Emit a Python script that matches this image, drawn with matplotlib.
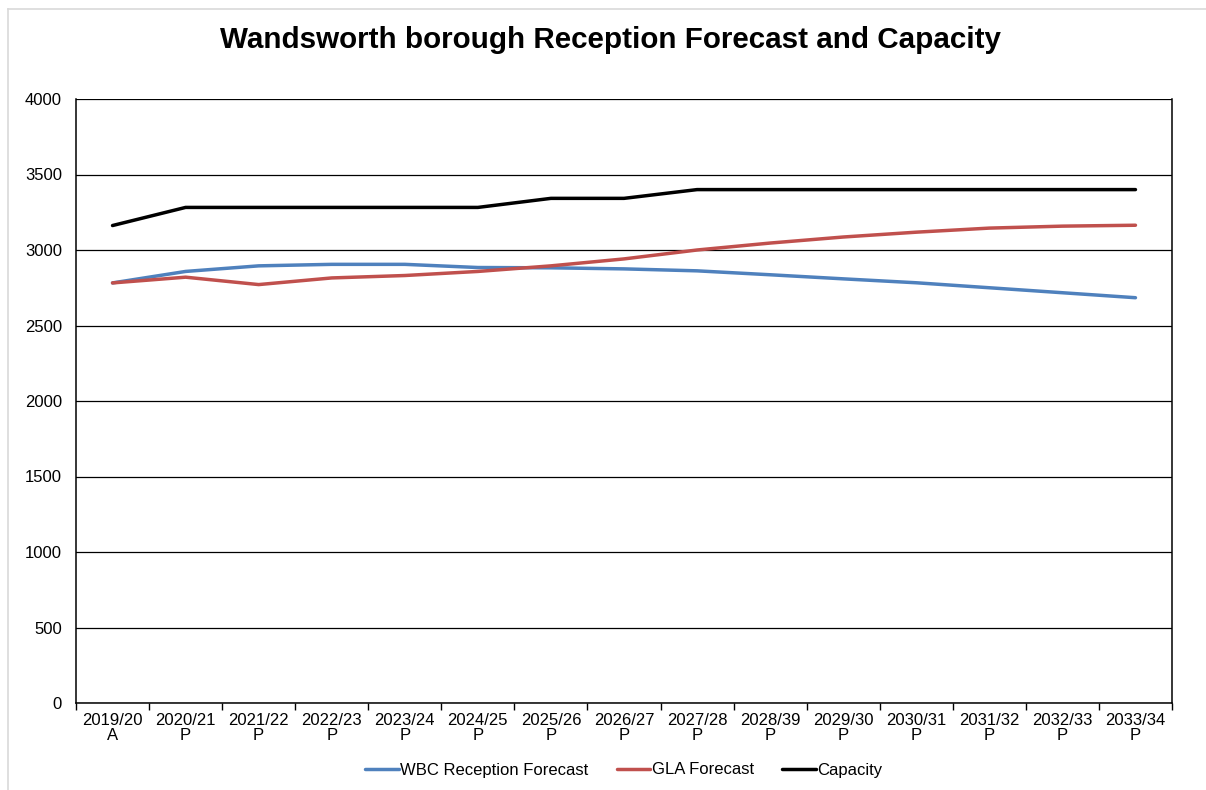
import matplotlib.pyplot as plt
from matplotlib.lines import Line2D
from matplotlib.ticker import FixedLocator, NullFormatter

plt.rcParams['font.family'] = ['Liberation Sans', 'DejaVu Sans']

years = ["2019/20", "2020/21", "2021/22", "2022/23", "2023/24", "2024/25", "2025/26",
         "2026/27", "2027/28", "2028/39", "2029/30", "2030/31", "2031/32", "2032/33", "2033/34"]
status = ["A"] + ["P"] * 14
wbc = [2782, 2858, 2895, 2905, 2905, 2884, 2882, 2875, 2862, 2836, 2809, 2783, 2750, 2717, 2684]
gla = [2782, 2820, 2771, 2815, 2831, 2858, 2895, 2941, 3000, 3046, 3086, 3118, 3145, 3158, 3164]
capacity = [3162, 3282, 3282, 3282, 3282, 3282, 3342, 3342, 3400, 3400, 3400, 3400, 3400, 3400, 3400]

labels = [y + "\n" + s for y, s in zip(years, status)]
x = list(range(len(years)))

fig = plt.figure(figsize=(12.06, 7.90), dpi=100)
ax = fig.add_axes([76 / 1206, 87 / 790, 1096 / 1206, 604 / 790])

ax.plot(x, wbc, color="#4F81BD", lw=2.5, label="WBC Reception Forecast", solid_capstyle="round")
ax.plot(x, gla, color="#C0504D", lw=2.5, label="GLA Forecast", solid_capstyle="round")
ax.plot(x, capacity, color="black", lw=2.5, label="Capacity", solid_capstyle="round")

ax.set_xlim(-0.5, len(years) - 0.5)
ax.set_ylim(0, 4000)
ax.set_yticks(range(0, 4001, 500))
ax.yaxis.grid(True, color="black", lw=0.9)
ax.set_axisbelow(True)
ax.tick_params(axis="y", length=0, labelsize=12, pad=10)

ax.set_xticks(x)
ax.set_xticklabels(labels, fontsize=12, linespacing=1.05)
ax.tick_params(axis="x", which="major", length=0, pad=7)
ax.xaxis.set_minor_locator(FixedLocator([i - 0.5 for i in range(len(years) + 1)]))
ax.xaxis.set_minor_formatter(NullFormatter())
ax.tick_params(axis="x", which="minor", length=5, width=1, direction="out")

for s in ax.spines.values():
    s.set_linewidth(1.1)
ax.spines["top"].set_visible(False)

fig.suptitle("Wandsworth borough Reception Forecast and Capacity", fontsize=21.3,
             fontweight="bold", x=611 / 1206, y=1 - 40 / 790, va="center")

ax.legend(loc="center", bbox_to_anchor=(0.5, -(770 - 703) / 604), ncol=3, frameon=False,
          fontsize=12, handlelength=2.0, handletextpad=0.1, columnspacing=1.7)

# light grey chart border
fig.add_artist(Line2D([8 / 1206, 1], [1 - 9 / 790, 1 - 9 / 790], color="#d9d9d9", lw=1.2))
fig.add_artist(Line2D([8 / 1206, 8 / 1206], [0, 1 - 9 / 790], color="#d9d9d9", lw=1.2))

fig.savefig("out.png", dpi=100)
